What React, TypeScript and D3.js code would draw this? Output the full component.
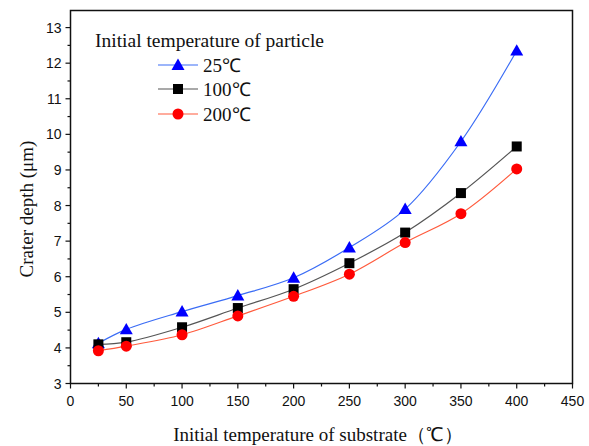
import React from 'react'
import * as d3 from 'd3'

// substrate temperature (°C)
const substrateTemps = [25, 50, 100, 150, 200, 250, 300, 350, 400]
// crater depth (μm) per initial particle temperature
const depth25 = [4.13, 4.52, 5.02, 5.47, 5.97, 6.82, 7.9, 9.8, 12.35]
const depth100 = [4.1, 4.16, 4.58, 5.12, 5.65, 6.38, 7.24, 8.35, 9.66]
const depth200 = [3.92, 4.05, 4.37, 4.9, 5.45, 6.07, 6.96, 7.77, 9.03]
const xTicks = [0, 50, 100, 150, 200, 250, 300, 350, 400, 450]
const yTicks = [3, 4, 5, 6, 7, 8, 9, 10, 11, 12, 13]

const series = [
  { name: '25℃', values: depth25, line: '#3a6cf5', fill: '#0000ff', shape: 'triangle' },
  { name: '100℃', values: depth100, line: '#555555', fill: '#000000', shape: 'square' },
  { name: '200℃', values: depth200, line: '#ff5a3c', fill: '#ff0000', shape: 'circle' }
]

const W = 589,
  H = 446
const margin = { left: 70.5, top: 10.5, right: 16.5, bottom: 62.5 }

const x = d3
  .scaleLinear()
  .domain([0, 450])
  .range([margin.left, W - margin.right])
const y = d3
  .scaleLinear()
  .domain([3, 13.48])
  .range([H - margin.bottom, margin.top])

const serif = '"Liberation Serif", "Times New Roman", serif'
const sans = '"Liberation Sans", Arial, sans-serif'

const Marker = ({ shape, cx, cy, fill }) => {
  if (shape === 'triangle') {
    const s = 6.5
    return (
      <path
        d={`M${cx},${cy - s}L${cx + s},${cy + s * 0.75}L${cx - s},${cy + s * 0.75}Z`}
        fill={fill}
      />
    )
  }
  if (shape === 'square') {
    return <rect x={cx - 5} y={cy - 5} width={10} height={10} fill={fill} />
  }
  return <circle cx={cx} cy={cy} r={5.5} fill={fill} />
}

const App = () => {
  const line = d3
    .line()
    .x(d => x(d[0]))
    .y(d => y(d[1]))
    .curve(d3.curveCatmullRom.alpha(0.5))

  const x0 = x.range()[0],
    x1 = x.range()[1],
    y0 = y.range()[0],
    y1 = y.range()[1]

  const xMinor = d3.range(0, 451, 25)
  const yMinor = d3.range(3, 13.01, 0.5)

  const legendX = 158,
    legendY = [65, 89, 114]

  return (
    <svg
      width={W}
      height={H}
      style={{ position: 'absolute', left: 0, top: 0, background: '#fff' }}
    >
      {/* frame */}
      <rect
        x={x0}
        y={y1}
        width={x1 - x0}
        height={y0 - y1}
        fill="none"
        stroke="#111"
        strokeWidth={1.5}
      />

      {/* x ticks */}
      {xMinor.map(v => (
        <line
          key={'xm' + v}
          x1={x(v)}
          x2={x(v)}
          y1={y0}
          y2={y0 + (v % 50 === 0 ? 5 : 3)}
          stroke="#111"
          strokeWidth={1.2}
        />
      ))}
      {xTicks.map(v => (
        <text
          key={'xt' + v}
          x={x(v)}
          y={y0 + 22}
          textAnchor="middle"
          fontFamily={sans}
          fontSize={14}
          fill="#111"
        >
          {v}
        </text>
      ))}

      {/* y ticks */}
      {yMinor.map(v => (
        <line
          key={'ym' + v}
          x1={x0}
          x2={x0 - (Number.isInteger(v) ? 5 : 3)}
          y1={y(v)}
          y2={y(v)}
          stroke="#111"
          strokeWidth={1.2}
        />
      ))}
      {yTicks.map(v => (
        <text
          key={'yt' + v}
          x={x0 - 9}
          y={y(v) + 5}
          textAnchor="end"
          fontFamily={sans}
          fontSize={14}
          fill="#111"
        >
          {v}
        </text>
      ))}

      {/* axis titles */}
      <text
        x={318}
        y={441}
        textAnchor="middle"
        fontFamily={serif}
        fontSize={19}
        fill="#111"
      >
        Initial temperature of substrate（℃）
      </text>
      <text
        transform={`translate(33,${(y0 + y1) / 2 + 12}) rotate(-90)`}
        textAnchor="middle"
        fontFamily={serif}
        fontSize={19}
        fill="#111"
      >
        Crater depth (μm)
      </text>

      {/* series */}
      {series.map(s => {
        const pts = substrateTemps.map((t, i) => [t, s.values[i]])
        return (
          <g key={s.name}>
            <path d={line(pts)} fill="none" stroke={s.line} strokeWidth={1.2} />
            {pts.map((p, i) => (
              <Marker key={i} shape={s.shape} cx={x(p[0])} cy={y(p[1])} fill={s.fill} />
            ))}
          </g>
        )
      })}

      {/* legend */}
      <text x={95} y={47} fontFamily={serif} fontSize={19.5} fill="#111">
        Initial temperature of particle
      </text>
      {series.map((s, i) => (
        <g key={'lg' + s.name}>
          <line
            x1={legendX}
            x2={legendX + 40}
            y1={legendY[i]}
            y2={legendY[i]}
            stroke={s.line}
            strokeWidth={1.2}
          />
          <Marker shape={s.shape} cx={legendX + 20} cy={legendY[i]} fill={s.fill} />
          <text
            x={legendX + 45}
            y={legendY[i] + 6.5}
            fontFamily={serif}
            fontSize={19}
            fill="#111"
          >
            {s.name}
          </text>
        </g>
      ))}
    </svg>
  )
}

export default App
